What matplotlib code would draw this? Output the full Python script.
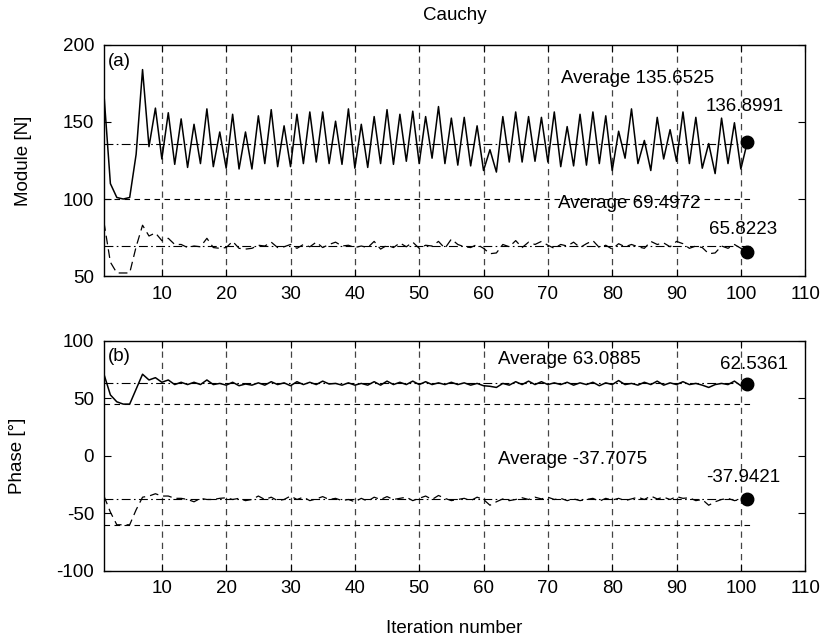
import matplotlib
matplotlib.use("Agg")
import matplotlib.pyplot as plt
import numpy as np

plt.rcParams['font.family'] = ['Liberation Sans', 'DejaVu Sans']
plt.rcParams['axes.unicode_minus'] = False

iterations = list(range(1, 102))

module_1 = [168, 110, 101, 100, 101, 129, 184, 134, 159, 126,
            156, 122.5, 152, 120.5, 148.5, 123, 158.5, 121, 143.5, 120,
            155, 119.5, 143.5, 119.5, 154, 123, 158, 121, 147.5, 121,
            155, 123, 156.5, 124, 156.5, 123, 150.5, 122.5, 158.5, 120,
            148.5, 120.5, 153.5, 123, 158, 122.5, 155, 124.5, 157, 123,
            153.5, 126.5, 160, 123, 152.5, 122, 153, 121.5, 147.5, 118.5,
            132, 117.5, 153.5, 124, 156.5, 124, 153.5, 124.5, 153, 124,
            156.5, 121, 147, 121.5, 155, 122, 156.5, 123, 154, 118.5,
            144, 126.5, 158.5, 123, 138, 118.5, 153, 126, 145, 124.5,
            156.5, 123, 153, 120, 136, 116.5, 152.5, 123, 149.5, 119.5,
            136.8991]

module_2 = [85, 59, 52, 52, 52, 69, 83, 76, 78, 73,
            74.5, 70.5, 70.5, 68.5, 69.5, 69, 74.5, 68.5, 68, 68.5,
            72.5, 68, 67.5, 68, 70, 69.5, 72, 68.5, 69, 70.5,
            68, 70.5, 69, 72, 68.5, 70.5, 72, 69.5, 70, 68.5,
            69.5, 68.5, 72.5, 67.5, 70, 68.5, 71.5, 69, 72, 68,
            70, 69.5, 72.5, 68, 74, 70.5, 69, 68.5, 70.5, 68,
            64.5, 65, 70.5, 69, 73, 68.5, 72, 70.5, 72.5, 70,
            68, 70.5, 69.5, 72, 68.5, 71, 73, 68.5, 70, 67.5,
            71, 69, 70.5, 69, 68, 72.5, 70.5, 71.5, 69, 72.5,
            71, 68, 69.5, 68.5, 64.5, 65, 69.5, 68, 70.5, 68,
            65.8223]

phase_1 = [71, 53, 47, 45, 45, 58, 71, 66, 68, 64,
           66, 62, 64, 62, 64, 62, 66, 62, 63, 61.5,
           64, 61, 62.5, 61.5, 63.5, 61.5, 64.5, 62, 63.5, 61,
           64.5, 62, 64, 62, 65, 62.5, 63, 61.5, 63.5, 61.5,
           63, 61.5, 64.5, 61.5, 65, 62, 64, 62, 65, 62,
           64.5, 62, 63.5, 62, 64, 62, 63.5, 61.5, 63, 61,
           60.5, 59.5, 63, 61.5, 64.5, 62, 65, 62, 64.5, 62,
           63.5, 62, 64, 61.5, 63.5, 62, 64, 61, 63.5, 62,
           65.5, 62, 63, 61.5, 64, 62, 65, 61.5, 63.5, 62,
           64.5, 62, 63, 61.5, 59.5, 62, 63, 62, 65, 61,
           62.5361]

phase_2 = [-35, -49, -60, -60, -60, -47, -36, -35, -33, -35,
           -35, -37, -37, -38, -40, -37, -38, -38, -37, -36.5,
           -38, -37, -39, -38, -35, -38, -36, -39, -38, -35,
           -38, -36, -39, -37.5, -35.5, -38, -37, -39, -38, -40,
           -37, -39.5, -36, -38, -35.5, -38, -37, -36, -39, -37,
           -35, -38, -34.5, -37, -39, -38, -37, -39, -36, -38,
           -43, -40, -37.5, -39, -38, -36.5, -38, -36, -37.5, -36,
           -38, -37, -39, -37.5, -39, -38, -37, -39.5, -37, -38.5,
           -37, -39, -37.5, -36, -38, -35, -37.5, -36, -38, -35.5,
           -37, -36.5, -39, -38, -43, -40, -38, -37, -39, -38,
           -37.9421]

avg_mod_1, avg_mod_2 = 135.6525, 69.4972
avg_ph_1, avg_ph_2 = 63.0885, -37.7075
bound_mod = 100
bound_ph_1, bound_ph_2 = 45, -60

xticks = [10, 20, 30, 40, 50, 60, 70, 80, 90, 100, 110]

fig = plt.figure(figsize=(8.25, 6.42), dpi=100)
ax1 = fig.add_axes([0.126, 0.570, 0.850, 0.360])
ax2 = fig.add_axes([0.126, 0.111, 0.850, 0.358])

line_x = [1, 101.5]
fs = 13.5

def style(ax, ylim, yticks):
    ax.set_xlim(1, 110)
    ax.set_ylim(*ylim)
    ax.set_xticks(xticks)
    ax.set_yticks(yticks)
    for x in xticks[:-1]:
        ax.axvline(x, color='#444444', lw=0.9, ls=(0, (5, 4)), zorder=0)
    ax.tick_params(direction='in', top=True, right=True, labelsize=fs,
                   length=5, width=0.8, pad=7)
    for s in ax.spines.values():
        s.set_linewidth(1.0)

# panel (a)
style(ax1, (50, 200), [50, 100, 150, 200])
ax1.plot(line_x, [bound_mod, bound_mod], color='k', lw=0.8, ls=(0, (5, 4)))
ax1.plot(line_x, [avg_mod_1, avg_mod_1], color='k', lw=0.8, ls=(0, (8, 3, 1.5, 3)))
ax1.plot(line_x, [avg_mod_2, avg_mod_2], color='k', lw=0.8, ls=(0, (8, 3, 1.5, 3)))
ax1.plot(iterations, module_1, color='k', lw=1.1)
ax1.plot(iterations, module_2, color='k', lw=0.9, ls=(0, (7, 4)))
ax1.plot([iterations[-1]], [module_1[-1]], 'o', color='k', ms=9)
ax1.plot([iterations[-1]], [module_2[-1]], 'o', color='k', ms=9)
ax1.text(72, 178, 'Average 135.6525', fontsize=fs, va='center', ha='left')
ax1.text(100.6, 160, '136.8991', fontsize=fs, va='center', ha='center')
ax1.text(71.5, 97, 'Average 69.4972', fontsize=fs, va='center', ha='left')
ax1.text(100.3, 80, '65.8223', fontsize=fs, va='center', ha='center')
ax1.text(1.6, 189, '(a)', fontsize=fs, va='center', ha='left')
ax1.set_ylabel('Module [N]', fontsize=fs, labelpad=22)
ax1.set_title('Cauchy', fontsize=fs, pad=18)

# panel (b)
style(ax2, (-100, 100), [-100, -50, 0, 50, 100])
ax2.plot(line_x, [bound_ph_1, bound_ph_1], color='k', lw=0.8, ls=(0, (5, 4)))
ax2.plot(line_x, [bound_ph_2, bound_ph_2], color='k', lw=0.8, ls=(0, (5, 4)))
ax2.plot(line_x, [avg_ph_1, avg_ph_1], color='k', lw=0.8, ls=(0, (8, 3, 1.5, 3)))
ax2.plot(line_x, [avg_ph_2, avg_ph_2], color='k', lw=0.8, ls=(0, (8, 3, 1.5, 3)))
ax2.plot(iterations, phase_1, color='k', lw=1.1)
ax2.plot(iterations, phase_2, color='k', lw=0.9, ls=(0, (7, 4)))
ax2.plot([iterations[-1]], [phase_1[-1]], 'o', color='k', ms=9)
ax2.plot([iterations[-1]], [phase_2[-1]], 'o', color='k', ms=9)
ax2.text(62.2, 84, 'Average 63.0885', fontsize=fs, va='center', ha='left')
ax2.text(102, 79.5, '62.5361', fontsize=fs, va='center', ha='center')
ax2.text(62.2, -3.5, 'Average -37.7075', fontsize=fs, va='center', ha='left')
ax2.text(100.4, -19, '-37.9421', fontsize=fs, va='center', ha='center')
ax2.text(1.6, 86, '(b)', fontsize=fs, va='center', ha='left')
ax2.set_ylabel('Phase [°]', fontsize=fs, labelpad=22)
ax2.set_xlabel('Iteration number', fontsize=fs, labelpad=16)

fig.savefig('out.png', dpi=100)
